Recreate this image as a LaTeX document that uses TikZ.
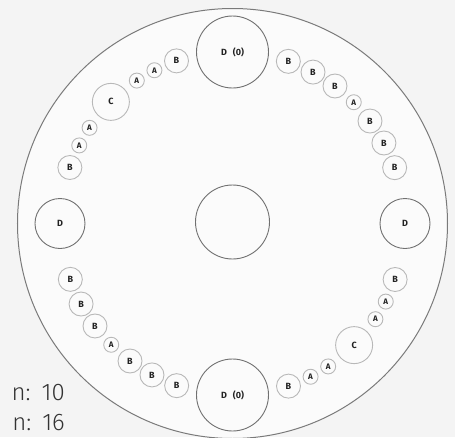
\documentclass[tikz,border=0pt]{standalone}
\usepackage{fontspec}
\setsansfont{Fira Sans}
\newfontfamily\numfont{Fira Sans Light}
\definecolor{ringgray}{HTML}{7A7A7A}
\definecolor{smallgray}{HTML}{B8B8B8}
\definecolor{dgray}{HTML}{707070}
\definecolor{labelgray}{HTML}{222222}
\definecolor{textgray}{HTML}{333333}
\definecolor{bggray}{HTML}{F4F4F4}
\definecolor{insidegray}{HTML}{FBFBFB}
\begin{document}
\begin{tikzpicture}[x=1pt,y=1pt,
  lbl/.style={font=\sffamily\bfseries\fontsize{9}{9}\selectfont, text=labelgray},
  bnode/.style={circle, draw=smallgray, line width=0.9pt, minimum size=24pt, inner sep=0pt, lbl},
  anode/.style={bnode, minimum size=15pt, font=\sffamily\bfseries\fontsize{8}{8}\selectfont},
  cnode/.style={bnode, minimum size=37pt},
  dbig/.style={circle, draw=dgray, line width=0.9pt, minimum size=72pt, inner sep=0pt, lbl},
  dsmall/.style={dbig, minimum size=50pt},
  numtxt/.style={anchor=base east, font=\numfont\fontsize{24}{24}\selectfont, text=textgray, inner sep=0pt}
]
\useasboundingbox (-232.5,-213.5) rectangle (222.5,223.5);
\fill[bggray] (-232.5,-213.5) rectangle (222.5,223.5);
\node[circle, draw=ringgray, line width=1pt, fill=insidegray, minimum size=430pt, inner sep=0pt] (outer) at (0,0) {};
\node[dbig, minimum size=74pt] (hub) at (0,1.5) {};
\node[dbig] (dtop) at (90:171.5) {D\hspace{6pt}(0)};
\node[dbig] (dbot) at (270:171.5) {D\hspace{6pt}(0)};
\node[dsmall] (dleft) at (180:172.5) {D};
\node[dsmall] (dright) at (0:172.5) {D};
% top-left arc
\foreach \a/\l/\s [count=\i] in {161/B/bnode,153/A/anode,146.2/A/anode,135/C/cnode,123.8/A/anode,117/A/anode,109/B/bnode}
  \node[\s] (tl\i) at (\a:172) {\l};
% bottom-right arc
\foreach \a/\l/\s [count=\i] in {341/B/bnode,333/A/anode,326.2/A/anode,315/C/cnode,303.8/A/anode,297/A/anode,289/B/bnode}
  \node[\s] (br\i) at (\a:172) {\l};
% top-right arc
\foreach \a/\l/\s [count=\i] in {71/B/bnode,62/B/bnode,53.3/B/bnode,45/A/anode,36.7/B/bnode,28/B/bnode,19/B/bnode}
  \node[\s] (tr\i) at (\a:171.5) {\l};
% bottom-left arc
\foreach \a/\l/\s [count=\i] in {251/B/bnode,242/B/bnode,233.3/B/bnode,225/A/anode,216.7/B/bnode,208/B/bnode,199/B/bnode}
  \node[\s] (bl\i) at (\a:171.5) {\l};
\node[numtxt] (n1) at (-167.5,-177) {n:\hspace{11pt}10};
\node[numtxt] (n2) at (-167.5,-206.5) {n:\hspace{11pt}16};
\end{tikzpicture}
\end{document}
